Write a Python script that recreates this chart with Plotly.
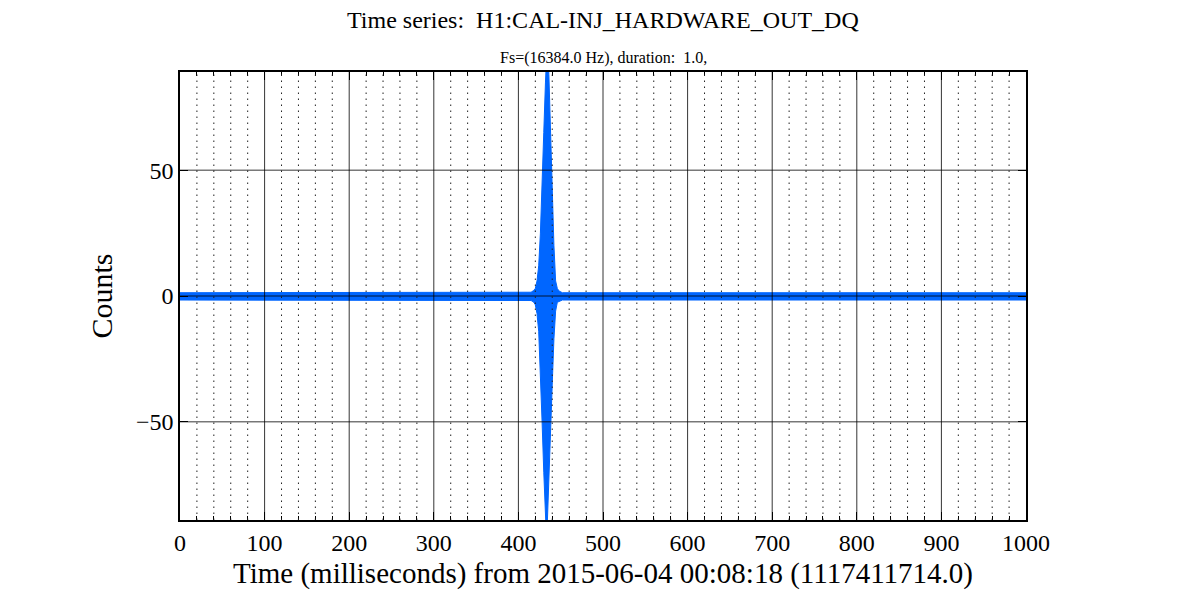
import plotly.graph_objects as go

# Envelope of the densely oscillating time series
time_ms = [0, 415, 418, 420, 422, 424, 426, 428, 430, 432, 433, 434, 436, 438, 440, 442, 444, 446, 448, 452, 1000]
upper = [1.3, 1.5, 2.2, 3.0, 6.0, 12.0, 25.0, 42.0, 65.0, 85.0, 95.0, 100.0, 88.0, 65.0, 40.0, 20.0, 6.0, 3.0, 2.0, 1.3, 1.3]
lower = [-1.6, -1.8, -2.4, -3.5, -7.0, -14.0, -28.0, -50.0, -70.0, -88.0, -95.0, -92.0, -76.0, -57.0, -35.0, -17.0, -6.0, -2.5, -2.0, -1.6, -1.6]

x_ticks = [0, 100, 200, 300, 400, 500, 600, 700, 800, 900, 1000]
y_ticks = [-50, 0, 50]
x_minor = [v for v in range(0, 1001, 20) if v % 100 != 0]

BLUE = "#0066ff"
FONT = "Liberation Serif"

fig = go.Figure()
fig.add_trace(go.Scatter(
    x=time_ms + time_ms[::-1],
    y=upper + lower[::-1],
    fill="toself",
    fillcolor=BLUE,
    line=dict(color=BLUE, width=1),
    mode="lines",
    hoverinfo="skip",
    showlegend=False,
))

shapes = []
for v in x_minor:
    shapes.append(dict(type="line", xref="x", yref="paper", x0=v, x1=v, y0=0, y1=1,
                       line=dict(color="#222222", width=1, dash="1.5px,4.5px"), layer="above"))
for v in x_ticks[1:-1]:
    shapes.append(dict(type="line", xref="x", yref="paper", x0=v, x1=v, y0=0, y1=1,
                       line=dict(color="black", width=0.8), layer="above"))
for v in y_ticks:
    shapes.append(dict(type="line", xref="paper", yref="y", x0=0, x1=1, y0=v, y1=v,
                       line=dict(color="black", width=0.8), layer="above"))

fig.update_layout(
    width=1200, height=600,
    margin=dict(l=172, r=182, t=64, b=88),
    paper_bgcolor="white", plot_bgcolor="white",
    font=dict(family=FONT, color="black"),
    shapes=shapes,
    annotations=[
        dict(text="Time series:  H1:CAL-INJ_HARDWARE_OUT_DQ", xref="paper", yref="paper",
             x=0.5, y=1, yshift=52, xanchor="center", yanchor="middle", showarrow=False,
             font=dict(size=24, family=FONT)),
        dict(text="Fs=(16384.0 Hz), duration:  1.0,", xref="paper", yref="paper",
             x=0.5, y=1, yshift=14, xanchor="center", yanchor="middle", showarrow=False,
             font=dict(size=16, family=FONT)),
    ],
    xaxis=dict(
        range=[0, 1000], tickvals=x_ticks, ticktext=[str(v) for v in x_ticks],
        showgrid=False, zeroline=False,
        ticks="inside", ticklen=8, tickwidth=1, tickcolor="black",
        minor=dict(tickvals=x_minor, ticks="inside", ticklen=4, tickcolor="black", showgrid=False),
        showline=True, linecolor="black", linewidth=1.5, mirror="ticks",
        tickfont=dict(size=24, family=FONT),
        title=dict(text="Time (milliseconds) from 2015-06-04 00:08:18 (1117411714.0)",
                   font=dict(size=29, family=FONT), standoff=8),
        layer="above traces",
    ),
    yaxis=dict(
        range=[-89, 89], tickvals=y_ticks,
        showgrid=False, zeroline=False,
        ticks="inside", ticklen=8, tickwidth=1, tickcolor="black",
        showline=True, linecolor="black", linewidth=1.5, mirror="ticks",
        tickfont=dict(size=24, family=FONT),
        title=dict(text="Counts", font=dict(size=30, family=FONT), standoff=14),
        layer="above traces",
    ),
)

fig.write_html("out.html")
